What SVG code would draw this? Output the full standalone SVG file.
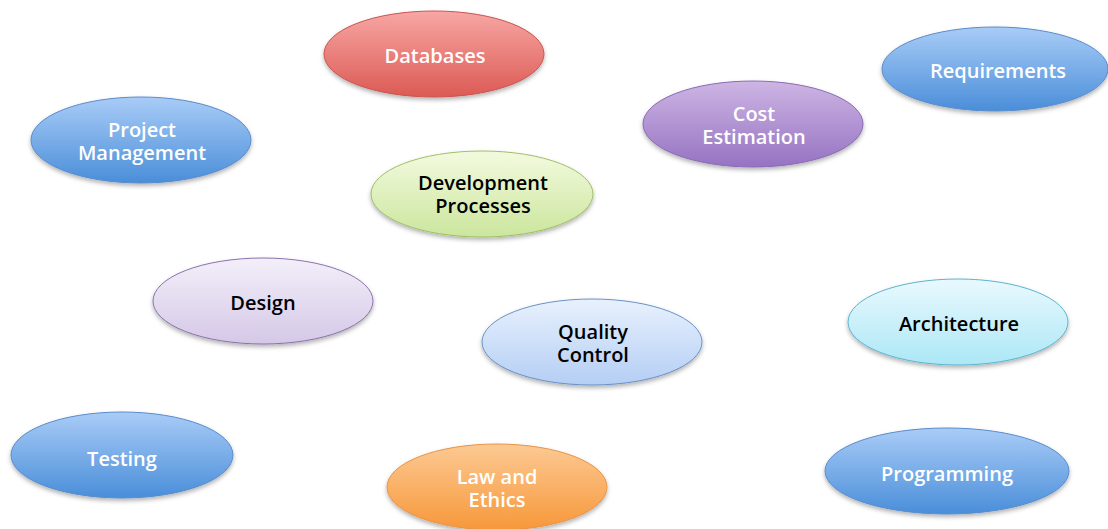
<svg xmlns="http://www.w3.org/2000/svg" width="1108" height="529" viewBox="0 0 1108 529">
<defs>
<linearGradient id="gBlue" x1="0" y1="0" x2="0" y2="1"><stop offset="0" stop-color="#a9ccf7"/><stop offset="1" stop-color="#4a8ed9"/></linearGradient>
<linearGradient id="gRed" x1="0" y1="0" x2="0" y2="1"><stop offset="0" stop-color="#f7a7a4"/><stop offset="1" stop-color="#dc5a54"/></linearGradient>
<linearGradient id="gPurple" x1="0" y1="0" x2="0" y2="1"><stop offset="0" stop-color="#cdb5e4"/><stop offset="1" stop-color="#9673c2"/></linearGradient>
<linearGradient id="gGreen" x1="0" y1="0" x2="0" y2="1"><stop offset="0" stop-color="#f3fadf"/><stop offset="1" stop-color="#cbe69d"/></linearGradient>
<linearGradient id="gLav" x1="0" y1="0" x2="0" y2="1"><stop offset="0" stop-color="#f3eff9"/><stop offset="1" stop-color="#d5c8e7"/></linearGradient>
<linearGradient id="gLBlue" x1="0" y1="0" x2="0" y2="1"><stop offset="0" stop-color="#e8f1fd"/><stop offset="1" stop-color="#b4cef4"/></linearGradient>
<linearGradient id="gCyan" x1="0" y1="0" x2="0" y2="1"><stop offset="0" stop-color="#e9f9fe"/><stop offset="1" stop-color="#ace7f6"/></linearGradient>
<linearGradient id="gOrange" x1="0" y1="0" x2="0" y2="1"><stop offset="0" stop-color="#fcc993"/><stop offset="1" stop-color="#f7983a"/></linearGradient>
<filter id="sh" x="-10%" y="-10%" width="120%" height="130%"><feDropShadow dx="0" dy="2.5" stdDeviation="2" flood-color="#000" flood-opacity="0.3"/></filter>
</defs>
<style>
ellipse{filter:url(#sh);stroke-width:1}
.blue{fill:url(#gBlue);stroke:#5a8ccb}
.red{fill:url(#gRed);stroke:#c95550}
.purple{fill:url(#gPurple);stroke:#8a6bb5}
.green{fill:url(#gGreen);stroke:#9fc064}
.lav{fill:url(#gLav);stroke:#8c72ad}
.lblue{fill:url(#gLBlue);stroke:#6a92c8}
.cyan{fill:url(#gCyan);stroke:#5bb5cf}
.orange{fill:url(#gOrange);stroke:#e89447}
text{font-family:"Open Sans","Liberation Sans",sans-serif;font-size:20px;font-weight:600;text-anchor:middle;dominant-baseline:central}
.w{fill:#ffffff}
.k{fill:#000000}
</style>
<rect width="1108" height="529" fill="#ffffff"/>
<g id="connectors"/>
<g id="databases"><ellipse class="red" cx="434" cy="54" rx="110" ry="43"/><text class="w" x="435" y="55">Databases</text></g>
<g id="requirements"><ellipse class="blue" cx="995" cy="69" rx="113" ry="42"/><text class="w" x="998" y="70">Requirements</text></g>
<g id="project-management"><ellipse class="blue" cx="141" cy="140" rx="110" ry="43"/><text class="w" x="142" y="129.5">Project</text><text class="w" x="142" y="152.5">Management</text></g>
<g id="cost-estimation"><ellipse class="purple" cx="753" cy="124" rx="110" ry="43"/><text class="w" x="754" y="113.5">Cost</text><text class="w" x="754" y="136.5">Estimation</text></g>
<g id="development-processes"><ellipse class="green" cx="482" cy="194" rx="111" ry="43"/><text class="k" x="483" y="182.5">Development</text><text class="k" x="483" y="205.5">Processes</text></g>
<g id="design"><ellipse class="lav" cx="263" cy="301" rx="110" ry="43"/><text class="k" x="263" y="302">Design</text></g>
<g id="quality-control"><ellipse class="lblue" cx="592" cy="342" rx="110" ry="43"/><text class="k" x="593" y="331.5">Quality</text><text class="k" x="593" y="354.5">Control</text></g>
<g id="architecture"><ellipse class="cyan" cx="958" cy="322" rx="110" ry="43"/><text class="k" x="959" y="323">Architecture</text></g>
<g id="testing"><ellipse class="blue" cx="122" cy="455" rx="111" ry="43"/><text class="w" x="122" y="458">Testing</text></g>
<g id="law-and-ethics"><ellipse class="orange" cx="497" cy="487" rx="110" ry="43"/><text class="w" x="497" y="476.5">Law and</text><text class="w" x="497" y="499.5">Ethics</text></g>
<g id="programming"><ellipse class="blue" cx="947" cy="471" rx="122" ry="43"/><text class="w" x="947" y="473">Programming</text></g>
</svg>
